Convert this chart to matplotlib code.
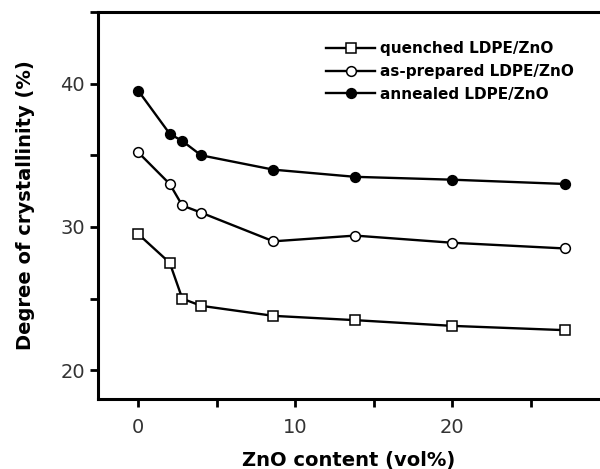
import matplotlib.pyplot as plt
from matplotlib.ticker import MultipleLocator

# ZnO content (vol%)
zno = [0, 2, 2.8, 4, 8.6, 13.8, 20, 27.2]
quenched = [29.5, 27.5, 25.0, 24.5, 23.8, 23.5, 23.1, 22.8]
as_prepared = [35.2, 33.0, 31.5, 31.0, 29.0, 29.4, 28.9, 28.5]
annealed = [39.5, 36.5, 36.0, 35.0, 34.0, 33.5, 33.3, 33.0]

fig = plt.figure(figsize=(6, 4.69), dpi=100)
ax = fig.add_axes([0.1633, 0.1493, 0.8367, 0.8251])

style = dict(color='black', linewidth=1.7, markersize=7, markeredgewidth=1.1)
ax.plot(zno, quenched, marker='s', markerfacecolor='white',
        label='quenched LDPE/ZnO', **style)
ax.plot(zno, as_prepared, marker='o', markerfacecolor='white',
        label='as-prepared LDPE/ZnO', **style)
ax.plot(zno, annealed, marker='o', markerfacecolor='black',
        label='annealed LDPE/ZnO', **style)

ax.set_xlim(-2.57, 29.4)
ax.set_ylim(18, 45)
ax.xaxis.set_major_locator(MultipleLocator(10))
ax.xaxis.set_minor_locator(MultipleLocator(5))
ax.yaxis.set_major_locator(MultipleLocator(10))
ax.yaxis.set_minor_locator(MultipleLocator(5))
ax.tick_params(which='both', direction='out', width=2, length=6,
               labelsize=14, labelcolor='#333333')
ax.tick_params(axis='x', pad=8)
for side in ['left', 'bottom', 'top']:
    ax.spines[side].set_linewidth(2.2)
ax.spines['right'].set_visible(False)

ax.set_xlabel('ZnO content (vol%)', fontsize=14, fontweight='bold', labelpad=10)
ax.set_ylabel('Degree of crystallinity (%)', fontsize=14, fontweight='bold',
              labelpad=18)

ax.legend(loc='upper right', bbox_to_anchor=(0.975, 0.96), frameon=False,
          handlelength=3.2, handletextpad=0.3, labelspacing=0.5,
          prop={'weight': 'bold', 'size': 11})

fig.savefig('out.png', dpi=100)
plt.close(fig)
